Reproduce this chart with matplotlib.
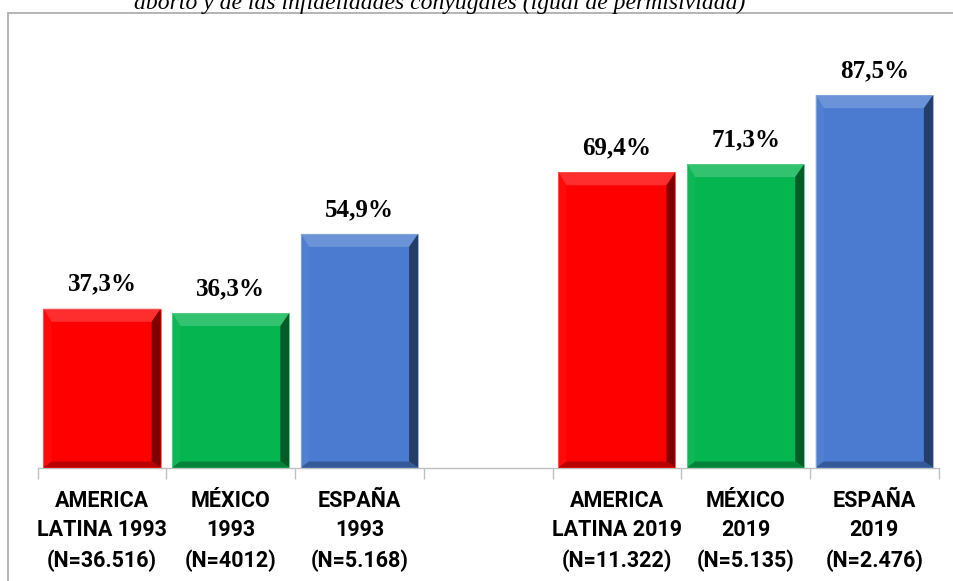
import matplotlib
matplotlib.use("Agg")
import matplotlib.pyplot as plt
from matplotlib.patches import Polygon, Rectangle
import matplotlib.colors as mcolors

categories = ["AMERICA\nLATINA 1993\n(N=36.516)", "MÉXICO\n1993\n(N=4012)", "ESPAÑA\n1993\n(N=5.168)", "",
              "AMERICA\nLATINA 2019\n(N=11.322)", "MÉXICO\n2019\n(N=5.135)", "ESPAÑA\n2019\n(N=2.476)"]
values = [37.3, 36.3, 54.9, None, 69.4, 71.3, 87.5]
value_labels = ["37,3%", "36,3%", "54,9%", "", "69,4%", "71,3%", "87,5%"]
colors = ["#FF0000", "#05B550", "#4A7BD0", None, "#FF0000", "#05B550", "#4A7BD0"]
title = "aborto y de las infidelidades conyugales (igual de permisividad)"

W, H = 954, 581
fig = plt.figure(figsize=(W / 100, H / 100), dpi=100)
fig.patch.set_facecolor("white")

# outer border
fig.patches.append(Rectangle((8 / W, -0.1), 1.2, 1.1 - 13 / H, transform=fig.transFigure,
                             fill=False, edgecolor="#A8A8A8", linewidth=1.2))

fig.text(440 / W, 1 - 9 / H, title, ha="center", va="baseline", fontsize=17,
         family="Liberation Serif", style="italic", color="black")

ax_left, ax_right = 37.7, 938.7
ax_bottom, ax_top = 467.5, 42.0
ax = fig.add_axes([ax_left / W, 1 - ax_bottom / H, (ax_right - ax_left) / W, (ax_bottom - ax_top) / H])
ax.set_xlim(-0.5, len(categories) - 0.5)
ax.set_ylim(0, 100)
ax.patch.set_alpha(0)
for s in ["top", "right", "left"]:
    ax.spines[s].set_visible(False)
ax.spines["bottom"].set_color("#BFBFBF")
ax.spines["bottom"].set_linewidth(1.0)
ax.set_yticks([])

bw = 0.91
idx = [i for i, v in enumerate(values) if v is not None]
bars = ax.bar(idx, [values[i] for i in idx], width=bw, color=[colors[i] for i in idx],
              edgecolor="none", zorder=2)

px_x = 1 / ((ax_right - ax_left) / len(categories))  # data units per pixel (x)
px_y = 100 / (ax_bottom - ax_top)                    # data units per pixel (y)


def shade(c, f):
    r, g, b = mcolors.to_rgb(c)
    if f >= 0:
        return (r + (1 - r) * f, g + (1 - g) * f, b + (1 - b) * f)
    return (r * (1 + f), g * (1 + f), b * (1 + f))


for b, i in zip(bars, idx):
    c = colors[i]
    x0, x1 = b.get_x(), b.get_x() + b.get_width()
    y0, y1 = 0, b.get_height()
    tb, lb, rb, bb = 13 * px_y, 8 * px_x, 9 * px_x, 6 * px_y
    ax.add_patch(Polygon([(x0, y1), (x1, y1), (x1 - rb, y1 - tb), (x0 + lb, y1 - tb)],
                         closed=True, facecolor=shade(c, 0.18), edgecolor="none", zorder=3))
    ax.add_patch(Polygon([(x0, y0), (x0, y1), (x0 + lb, y1 - tb), (x0 + lb, y0 + bb)],
                         closed=True, facecolor=shade(c, 0.04), edgecolor="none", zorder=3))
    ax.add_patch(Polygon([(x1, y0), (x1, y1), (x1 - rb, y1 - tb), (x1 - rb, y0 + bb)],
                         closed=True, facecolor=shade(c, -0.5), edgecolor="none", zorder=3))
    ax.add_patch(Polygon([(x0, y0), (x1, y0), (x1 - rb, y0 + bb), (x0 + lb, y0 + bb)],
                         closed=True, facecolor=shade(c, -0.28), edgecolor="none", zorder=3))
    ax.add_patch(Rectangle((x0, y0), x1 - x0, y1 - y0, fill=False, edgecolor=shade(c, 0.35),
                           linewidth=0.6, zorder=4))
    ax.text(i, y1 + 13 * px_y, value_labels[i], ha="center", va="bottom", fontsize=18,
            fontweight="bold", family="Liberation Serif", color="black")

# category boundary ticks
bounds = [k - 0.5 for k in range(len(categories) + 1)]
ax.set_xticks(bounds)
ax.set_xticklabels([""] * len(bounds))
ax.tick_params(axis="x", length=8, color="#BFBFBF", width=1.0, direction="out")
ax.set_xticks(range(len(categories)), minor=True)
ax.set_xticklabels(categories, minor=True, fontsize=15.5, fontweight="bold", family="Roboto",
                   linespacing=1.45)
ax.tick_params(axis="x", which="minor", length=0, pad=16)

fig.savefig("out.png", dpi=100, facecolor="white")
